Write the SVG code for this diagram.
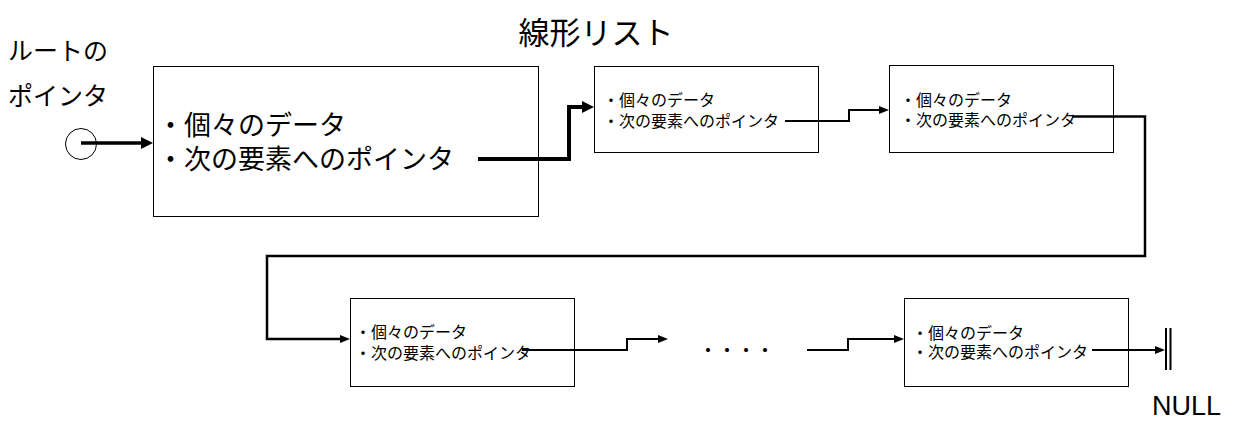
<svg xmlns="http://www.w3.org/2000/svg" width="1235" height="436" viewBox="0 0 1235 436">
  <style>
    .jp { font-family: "Noto Sans CJK JP", "Noto Sans", sans-serif; fill: #000; }
    .box { fill: #fff; stroke: #000; stroke-width: 1; }
    .c { fill: none; stroke: #000; stroke-linejoin: miter; }
    .s { font-size: 16px; }
  </style>
  <defs>
    <marker id="ahL" markerUnits="userSpaceOnUse" markerWidth="14" markerHeight="14" refX="2" refY="6" orient="auto">
      <path d="M0,0 L12,6 L0,12 z" fill="#000"/>
    </marker>
    <marker id="ah" markerUnits="userSpaceOnUse" markerWidth="12" markerHeight="10" refX="2" refY="4" orient="auto">
      <path d="M0,0 L10,4 L0,8 z" fill="#000"/>
    </marker>
  </defs>
  <rect width="1235" height="436" fill="#fff"/>

  <text id="title" class="jp" x="596" y="44" font-size="31" text-anchor="middle">線形リスト</text>

  <g id="root">
    <text class="jp" font-size="25"><tspan x="8" y="60">ルートの</tspan><tspan x="8" y="105">ポインタ</tspan></text>
    <circle cx="81" cy="144" r="15.5" fill="none" stroke="#000" stroke-width="1"/>
  </g>

  <g id="node1">
    <rect class="box" x="153.5" y="66.5" width="385" height="150"/>
    <text class="jp" font-size="27"><tspan x="157" y="135">・個々のデータ</tspan><tspan x="157" y="169">・次の要素へのポインタ</tspan></text>
  </g>

  <g id="node2">
    <rect class="box" x="594.5" y="66.5" width="224" height="86"/>
    <text class="jp s"><tspan x="603" y="106">・個々のデータ</tspan><tspan x="603" y="127">・次の要素へのポインタ</tspan></text>
  </g>

  <g id="node3">
    <rect class="box" x="889.5" y="65.5" width="224" height="87"/>
    <text class="jp s"><tspan x="900" y="106">・個々のデータ</tspan><tspan x="900" y="126">・次の要素へのポインタ</tspan></text>
  </g>

  <g id="node4">
    <rect class="box" x="350.5" y="298.5" width="224" height="88"/>
    <text class="jp s"><tspan x="355" y="338">・個々のデータ</tspan><tspan x="355" y="359">・次の要素へのポインタ</tspan></text>
  </g>

  <g id="node5">
    <rect class="box" x="904.5" y="298.5" width="224" height="88"/>
    <text class="jp s"><tspan x="912" y="339">・個々のデータ</tspan><tspan x="912" y="358">・次の要素へのポインタ</tspan></text>
  </g>

  <g id="ellipsis">
    <text class="jp" x="698.5" y="358" font-size="19">・・・・</text>
  </g>

  <g id="null">
    <line x1="1166" y1="328" x2="1166" y2="370" stroke="#000" stroke-width="2"/>
    <line x1="1170.5" y1="328" x2="1170.5" y2="370" stroke="#000" stroke-width="2"/>
    <text x="1152" y="415" font-family="Liberation Sans, Arial, sans-serif" font-size="27" fill="#000">NULL</text>
  </g>

  <g id="connectors">
    <path class="c" d="M81,143 H143" stroke-width="3.5" marker-end="url(#ahL)"/>
    <path class="c" d="M478,159 H569 V107 H584" stroke-width="4" marker-end="url(#ahL)"/>
    <path class="c" d="M785,121 H849 V110 H881" stroke-width="2" marker-end="url(#ah)"/>
    <path class="c" d="M1073,116.5 H1145 V256 H267 V339 H342" stroke-width="2.5" marker-end="url(#ah)"/>
    <path class="c" d="M522,350 H627 V339 H660" stroke-width="2" marker-end="url(#ah)"/>
    <path class="c" d="M807,350 H848 V339 H896" stroke-width="2" marker-end="url(#ah)"/>
    <path class="c" d="M1092,350 H1157" stroke-width="2" marker-end="url(#ah)"/>
  </g>
</svg>
